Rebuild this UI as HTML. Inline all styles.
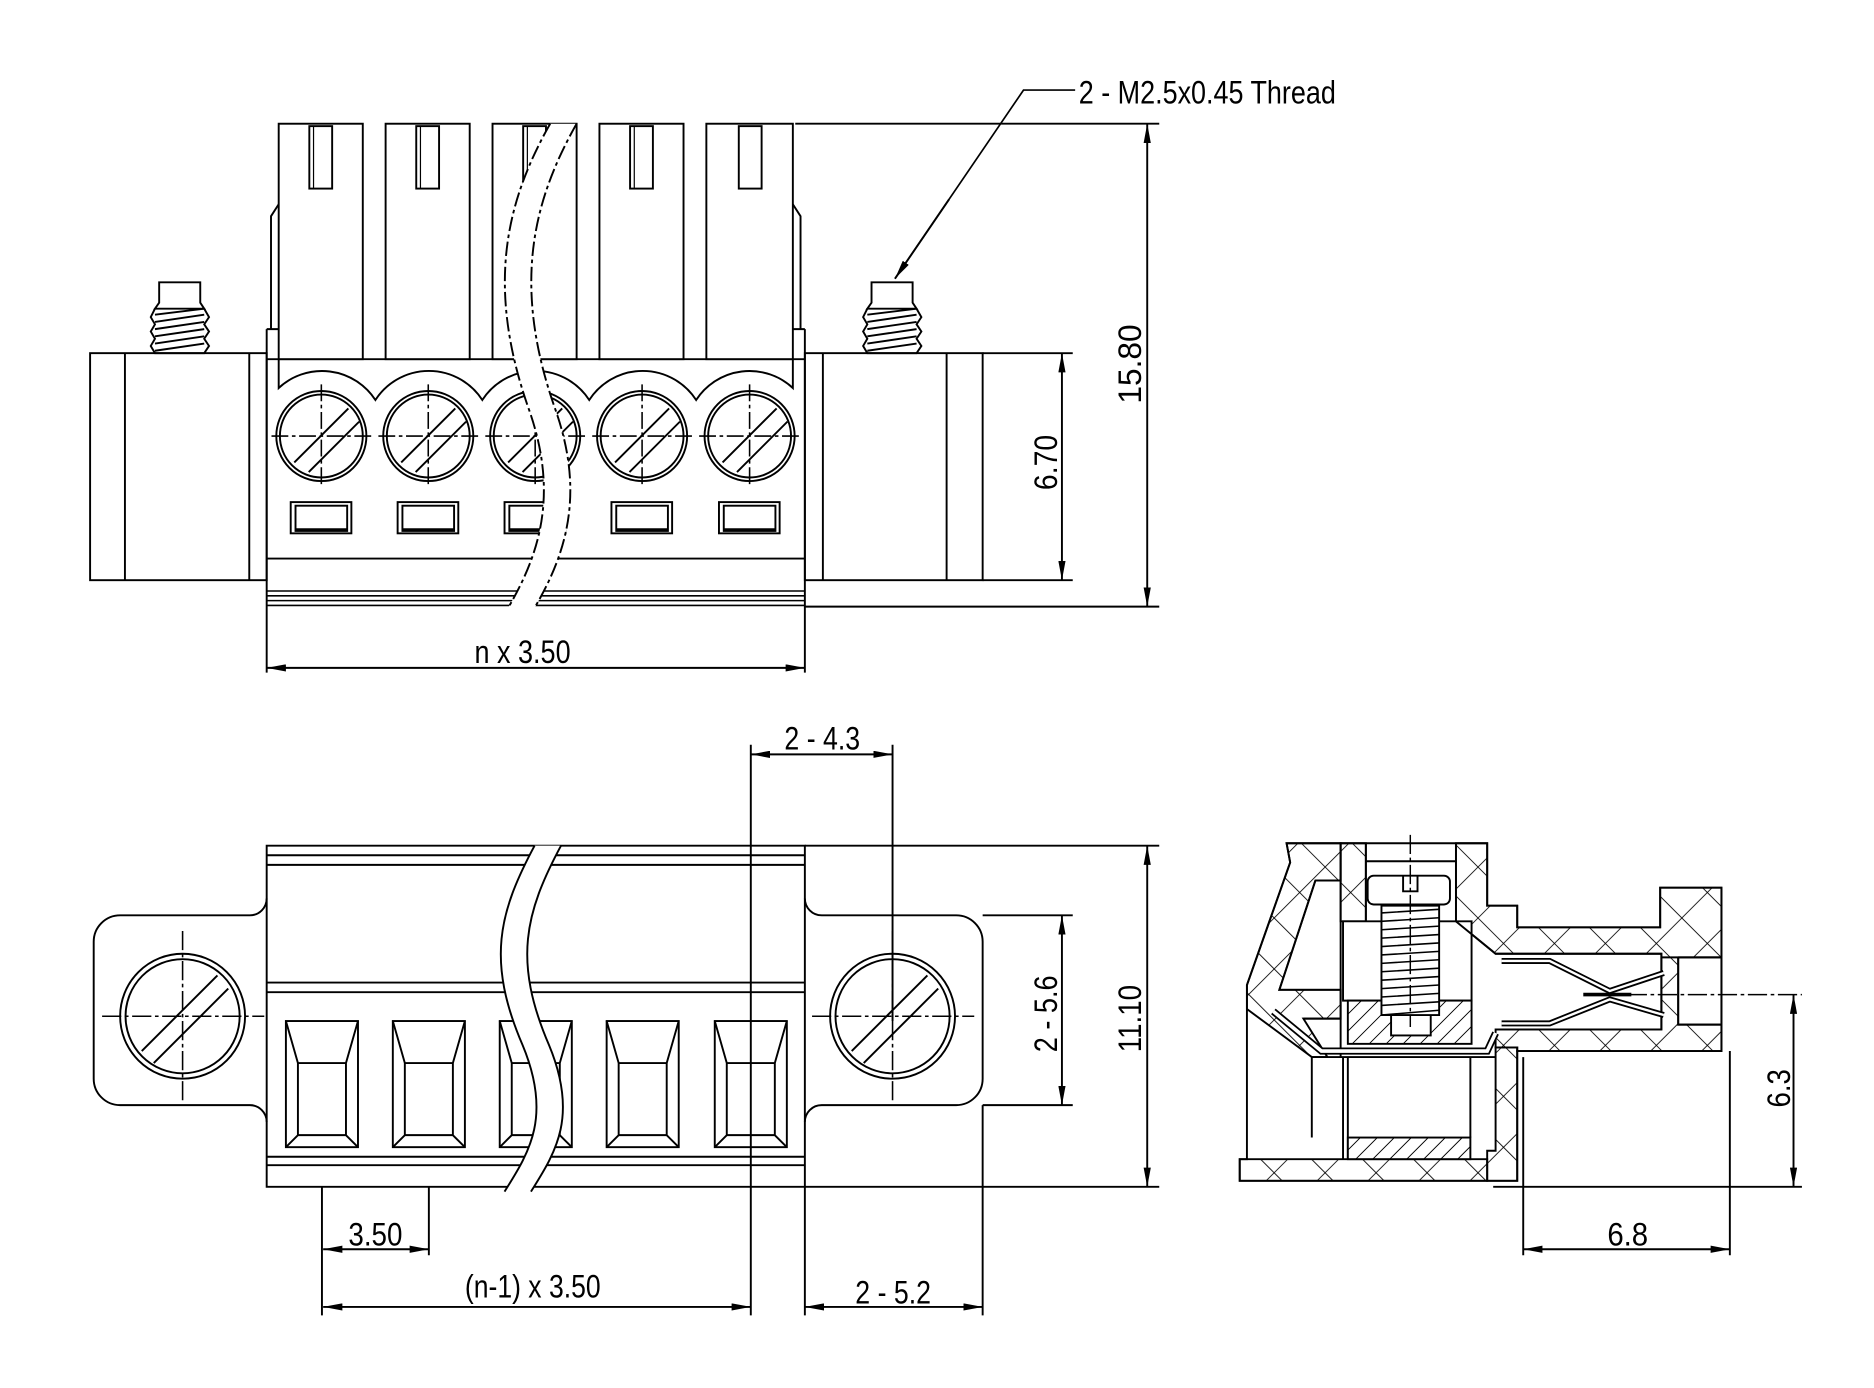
<!DOCTYPE html>
<html><head><meta charset="utf-8"><style>
html,body{margin:0;padding:0;background:#fff;}
svg{display:block}
text{font-family:"Liberation Sans Narrow","Liberation Sans",sans-serif;fill:#000;}
</style></head><body>
<svg width="1874" height="1388" viewBox="0 0 1560 1155.5" preserveAspectRatio="none" xmlns="http://www.w3.org/2000/svg">
<defs>
<pattern id="xh" width="30" height="30" patternUnits="userSpaceOnUse" patternTransform="rotate(45)">
<path d="M0 0H30M0 0V30" stroke="#000" stroke-width="1.4"/>
</pattern>
<pattern id="sh" width="10" height="10" patternUnits="userSpaceOnUse" patternTransform="rotate(45)">
<rect width="10" height="10" fill="#fff"/><path d="M0 0V10" stroke="#000" stroke-width="1.6"/>
</pattern>
<marker id="a" viewBox="0 0 16 6" refX="16" refY="3" markerWidth="16" markerHeight="6" markerUnits="userSpaceOnUse" orient="auto-start-reverse">
<path d="M0 0L16 3L0 6z" fill="#000"/>
</marker>
</defs>
<rect width="1560" height="1156" fill="#fff"/>
<g fill="none" stroke="#000" stroke-width="1.6">
<!-- ================= TOP VIEW ================= -->
<rect x="75" y="294" width="147" height="189"/>
<line x1="104" y1="294" x2="104" y2="483"/><line x1="207.5" y1="294" x2="207.5" y2="483"/>
<rect x="670" y="294" width="148" height="189"/>
<line x1="685" y1="294" x2="685" y2="483"/><line x1="788" y1="294" x2="788" y2="483"/>
<g id="post">
<path d="M132.5 252V235H166.7V252L170 257H129z"/>
<path d="M129 257L125.5 264L129 270L125.5 276L129 282L125.5 288L129 294H170L174 288L170 282L174 276L170 270L174 264L170 257"/>
<path d="M129 262L170 257M129 268L170 262M129 274L170 268M129 280L170 274M129 286L170 280M129 292L170 286"/>
</g>
<use href="#post" transform="translate(593,0)"/>
<path d="M222 274H232M222 274V560M670 274V560M660 274H670M222 299H670"/>
<path d="M225.6 274V180L232 170M666.4 274V180L660 170"/>
<path d="M232 299V323A53 53 0 0 1 312.5 333A53 53 0 0 1 401.5 333A53 53 0 0 1 490.5 333A53 53 0 0 1 579.5 333A53 53 0 0 1 660 323V299"/>
<line x1="222" y1="465" x2="670" y2="465"/>
<path d="M222 492H670M222 496H670M222 500H670M222 504H670" stroke-width="1.3"/>
<g id="plug">
<rect x="232" y="103" width="70" height="196" fill="#fff"/>
<rect x="257.5" y="105" width="19" height="52"/><line x1="261" y1="105" x2="261" y2="157" stroke-width="1"/>
<circle cx="267.5" cy="363" r="37.5"/><circle cx="267.5" cy="363" r="34.5"/>
<path d="M245 385L290 340M257 393L299 351" />
<path d="M226 363H309M267.5 320V406" stroke-dasharray="14 3 3 3" stroke-width="1.3"/>
<rect x="242" y="418" width="50.5" height="26"/><rect x="246" y="421" width="43" height="21"/>
<line x1="246" y1="441" x2="289" y2="441" stroke-width="2.5"/>
</g>
<use href="#plug" transform="translate(89,0)"/>
<use href="#plug" transform="translate(178,0)"/>
<use href="#plug" transform="translate(267,0)"/>
<rect x="588" y="103" width="72" height="196" fill="#fff"/>
<rect x="615" y="105" width="19" height="52"/>
<circle cx="624" cy="363" r="37.5"/><circle cx="624" cy="363" r="34.5"/>
<path d="M601.5 385L646.5 340M613.5 393L655.5 351"/>
<path d="M582 363H665M624 320V406" stroke-dasharray="14 3 3 3" stroke-width="1.3"/>
<rect x="598.5" y="418" width="50.5" height="26"/><rect x="602.5" y="421" width="43" height="21"/>
<line x1="602.5" y1="441" x2="645.5" y2="441" stroke-width="2.5"/>
<path d="M458 103C420 170 405 240 440 340C465 410 450 460 423 506H445C472 460 487 410 462 340C427 240 442 170 480 103z" fill="#fff" stroke="none"/>
<path d="M458 103C420 170 405 240 440 340C465 410 450 460 423 506M480 103C442 170 427 240 462 340C487 410 472 460 445 506" stroke-dasharray="12 3 3 3"/>
<path d="M662 103H965M670 505H965M818 294H893M818 483H893"/>
<line x1="955" y1="103" x2="955" y2="505" marker-start="url(#a)" marker-end="url(#a)"/>
<line x1="884" y1="294" x2="884" y2="483" marker-start="url(#a)" marker-end="url(#a)"/>
<line x1="222" y1="556" x2="670" y2="556" marker-start="url(#a)" marker-end="url(#a)"/>
<path d="M895 75H852L745 232" stroke-width="1.4"/>
<line x1="790" y1="166" x2="745" y2="232" marker-end="url(#a)"/>

<!-- ================= FRONT VIEW ================= -->
<path d="M222 704H670V988H222z"/>
<path d="M222 712H670M222 720H670M222 818H670M222 826H670M222 963H670M222 970H670"/>
<path d="M222 748A14 14 0 0 1 208 762H100A22 22 0 0 0 78 784V898A22 22 0 0 0 100 920H208A14 14 0 0 1 222 934"/>
<path d="M670 748A14 14 0 0 0 684 762H796A22 22 0 0 1 818 784V898A22 22 0 0 1 796 920H684A14 14 0 0 0 670 934"/>
<g id="hole">
<circle cx="152" cy="846" r="52"/><circle cx="152" cy="846" r="47.5"/>
<path d="M118 875L181 812M128 885L190 823"/>
<path d="M85 846H220M152 775V918" stroke-dasharray="16 3 3 3" stroke-width="1.3"/>
</g>
<use href="#hole" transform="translate(591,0)"/>
<g id="slot">
<rect x="238" y="850" width="60" height="105"/>
<path d="M238 850L248 885H288L298 850M248 885V945H288V885M238 955L248 945M298 955L288 945"/>
</g>
<use href="#slot" transform="translate(89,0)"/>
<use href="#slot" transform="translate(178,0)"/>
<use href="#slot" transform="translate(267,0)"/>
<use href="#slot" transform="translate(357,0)"/>
<path d="M445 704C415 760 405 800 435 870C460 930 440 960 420 992H442C462 960 482 930 457 870C427 800 437 760 467 704z" fill="#fff" stroke="none"/>
<path d="M445 704C415 760 405 800 435 870C460 930 440 960 420 992M467 704C437 760 427 800 457 870C482 930 462 960 442 992"/>
<path d="M625 620V1095M743 620V850M670 988V1095M818 920V1095M357 988V1045M268 988V1095"/>
<path d="M670 704H965M670 988H965M818 762H893M818 920H893"/>
<line x1="625" y1="628" x2="743" y2="628" marker-start="url(#a)" marker-end="url(#a)"/>
<line x1="955" y1="704" x2="955" y2="988" marker-start="url(#a)" marker-end="url(#a)"/>
<line x1="884" y1="762" x2="884" y2="920" marker-start="url(#a)" marker-end="url(#a)"/>
<line x1="269" y1="1040" x2="357" y2="1040" marker-start="url(#a)" marker-end="url(#a)"/>
<line x1="269" y1="1088" x2="625" y2="1088" marker-start="url(#a)" marker-end="url(#a)"/>
<line x1="670" y1="1088" x2="818" y2="1088" marker-start="url(#a)" marker-end="url(#a)"/>

<!-- ================= SIDE VIEW ================= -->
<g fill="url(#xh)">
<path d="M1071 702H1116V733H1095L1065 824H1116V848H1085L1105 880H1092L1038 840V820L1074 718z"/>
<path d="M1116 702H1137V767H1116z"/>
<path d="M1212 702H1238V754H1263V772H1382V739H1433V875H1263V872H1245V857H1383V797H1397V853H1433V797H1383V794H1245L1212 767z"/>
<path d="M1245 872H1263V983H1238V958H1245z"/>
<path d="M1032 965H1238V983H1032z"/>
</g>
<path d="M1071 702H1238V754H1263V772H1382V739H1433V875H1263V983H1032V965L1038 965V820L1074 718z"/>
<path d="M1116 702V880M1137 702V767M1212 702V767M1137 717H1212"/>
<path d="M1095 733H1116M1095 733L1065 824H1116M1085 848H1116"/>
<path d="M1118 767H1225V833H1118z" fill="#fff"/>
<rect x="1122" y="833" width="103" height="36" fill="url(#sh)"/>
<rect x="1158" y="845" width="33" height="17" fill="#fff"/>
<path d="M1212 767L1245 794H1383V857H1245"/>
<path d="M1397 797H1433M1397 797V853H1433"/>
<rect x="1138.5" y="729" width="68.5" height="24" rx="5" fill="#fff"/>
<path d="M1168 729V742H1180V729"/>
<path d="M1150 754H1198V845H1150z" fill="#fff"/>
<path d="M1150 760L1198 757M1150 767L1198 764M1150 774L1198 771M1150 781L1198 778M1150 788L1198 785M1150 795L1198 792M1150 802L1198 799M1150 809L1198 806M1150 816L1198 813M1150 823L1198 820M1150 830L1198 827M1150 837L1198 834M1150 845L1198 841" stroke-width="1.3"/>
<line x1="1174" y1="695" x2="1174" y2="855" stroke-dasharray="16 3 3 3" stroke-width="1.2"/>
<path d="M1060 842L1100 875H1238L1245 860" stroke-width="6" stroke="#000"/>
<path d="M1060 842L1100 875H1238L1245 860" stroke-width="3" stroke="#fff"/>
<path d="M1092 880V947M1118 880V965M1122 880V965M1224 880V947M1092 880H1245"/>
<rect x="1122" y="947" width="102" height="18" fill="url(#sh)"/>
<path d="M1250 800H1290L1340 825L1385 810M1250 852H1290L1340 832L1385 845" stroke-width="5"/>
<path d="M1250 800H1290L1340 825L1385 810M1250 852H1290L1340 832L1385 845" stroke-width="2" stroke="#fff"/>
<path d="M1318 828H1358" stroke-width="3"/>
<path d="M1330 828H1500" stroke-dasharray="16 3 3 3" stroke-width="1.3"/>
<path d="M1243 988H1500M1268 880V1045M1440 875V1045"/>
<line x1="1493" y1="828" x2="1493" y2="988" marker-start="url(#a)" marker-end="url(#a)"/>
<line x1="1268" y1="1040" x2="1440" y2="1040" marker-start="url(#a)" marker-end="url(#a)"/>
</g>
<g font-size="27">
<text x="898" y="86" textLength="214" lengthAdjust="spacingAndGlyphs">2 - M2.5x0.45 Thread</text>
<text x="395" y="552" textLength="80" lengthAdjust="spacingAndGlyphs">n x 3.50</text>
<text transform="translate(950,336) rotate(-90)" textLength="66" lengthAdjust="spacingAndGlyphs">15.80</text>
<text transform="translate(880,408) rotate(-90)" textLength="46" lengthAdjust="spacingAndGlyphs">6.70</text>
<text x="653" y="624" textLength="63" lengthAdjust="spacingAndGlyphs">2 - 4.3</text>
<text transform="translate(880,876) rotate(-90)" textLength="64" lengthAdjust="spacingAndGlyphs">2 - 5.6</text>
<text transform="translate(950,876) rotate(-90)" textLength="56" lengthAdjust="spacingAndGlyphs">11.10</text>
<text x="290" y="1037" textLength="45" lengthAdjust="spacingAndGlyphs">3.50</text>
<text x="387" y="1080" textLength="113" lengthAdjust="spacingAndGlyphs">(n-1) x 3.50</text>
<text x="712" y="1085" textLength="63" lengthAdjust="spacingAndGlyphs">2 - 5.2</text>
<text x="1338" y="1037" textLength="34" lengthAdjust="spacingAndGlyphs">6.8</text>
<text transform="translate(1490,922) rotate(-90)" textLength="32" lengthAdjust="spacingAndGlyphs">6.3</text>
</g>
</svg>
</body></html>
